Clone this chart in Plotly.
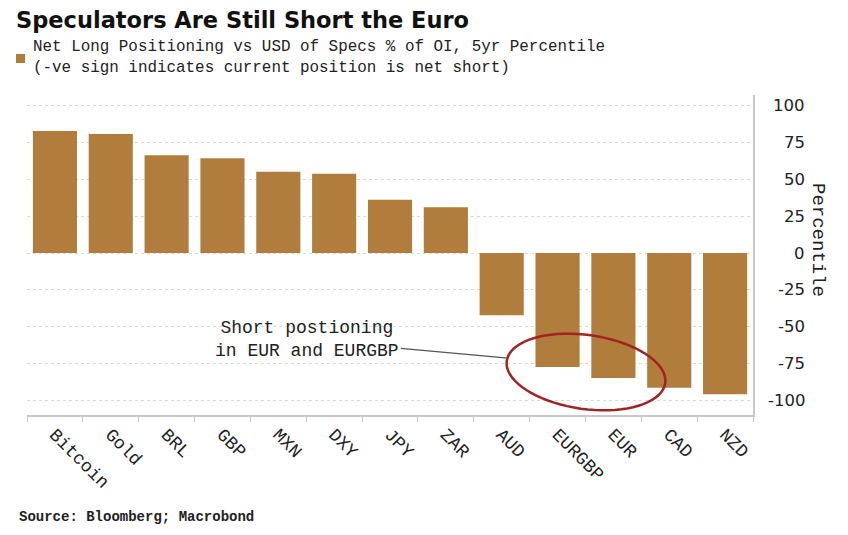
import math
import plotly.graph_objects as go

categories = ["Bitcoin", "Gold", "BRL", "GBP", "MXN", "DXY", "JPY", "ZAR",
              "AUD", "EURGBP", "EUR", "CAD", "NZD"]
percentile = [82.5, 80.5, 66, 64, 55, 53.5, 36, 31,
              -42, -77, -84.5, -91, -95.5]
y_ticks = [100, 75, 50, 25, 0, -25, -50, -75, -100]

title_text = "Speculators Are Still Short the Euro"
legend_lines = ["Net Long Positioning vs USD of Specs % of OI, 5yr Percentile",
                "(-ve sign indicates current position is net short)"]

BAR = "#B07D3C"
MONO = "Liberation Mono, DejaVu Sans Mono, monospace"
SANS = "DejaVu Sans, Verdana, sans-serif"

# page has an 8px body margin; figure is sized to fit the window inside it
OFF = 8
W, H = 848 - 2 * OFF, 535 - 2 * OFF
# target plot area in page pixels: left 27, right 753, top 95, bottom 415
L, R, T, B = 27 - OFF, W - (753 - OFF), 95 - OFF, H - (415 - OFF)
Y_RANGE = [-109.5, 106.8]

fig = go.Figure()
fig.add_trace(go.Bar(x=categories, y=percentile, marker_color=BAR,
                     marker_line_width=0, name=legend_lines[0],
                     showlegend=False))

fig.update_layout(
    width=W, height=H,
    margin=dict(l=L, r=R, t=T, b=B, autoexpand=False),
    paper_bgcolor="white", plot_bgcolor="white",
    bargap=0.21,
    showlegend=False,
)

fig.update_xaxes(
    type="category", showgrid=False, showline=True, linecolor="#c8c8c8",
    linewidth=1.5, ticks="outside", tickson="boundaries", ticklen=5,
    tickcolor="#c8c8c8", tickangle=45,
    tickfont=dict(family=MONO, size=18, color="#222"),
    range=[-0.5, len(categories) - 0.5],
)
fig.update_yaxes(
    side="right", range=Y_RANGE, tickvals=y_ticks,
    showticklabels=False, showgrid=True, gridcolor="#d9d9d9", griddash="dot",
    gridwidth=1, zeroline=False, showline=True, linecolor="#c8c8c8",
    linewidth=1.5, ticks="",
)

pw = W - L - R
ph = H - T - B


def px_x(p):
    """page x pixel -> paper fraction"""
    return (p - OFF - L) / pw


def px_y(p):
    """page y pixel -> paper fraction"""
    return 1 - (p - OFF - T) / ph


# title
fig.add_annotation(x=px_x(14), xref="paper", y=px_y(20), yref="paper",
                   xanchor="left", yanchor="middle", showarrow=False,
                   text=f"<b>{title_text}</b>",
                   font=dict(family=SANS, size=22.5, color="#111"))

# legend (manual)
fig.add_shape(type="rect", xref="paper", yref="paper",
              x0=px_x(16), x1=px_x(25), y0=px_y(63), y1=px_y(54),
              fillcolor=BAR, line_width=0)
fig.add_annotation(x=px_x(31), xref="paper", y=px_y(58), yref="paper",
                   xanchor="left", yanchor="middle", showarrow=False,
                   align="left", text="<br>".join(legend_lines),
                   font=dict(family=MONO, size=15.9, color="#222"))

# right-aligned tick labels
for v in y_ticks:
    fig.add_annotation(x=px_x(807), xref="paper", y=v, yref="y", text=str(v),
                       showarrow=False, xanchor="right", yanchor="middle",
                       font=dict(family=SANS, size=16.5, color="#222"))

fig.add_annotation(x=px_x(818), xref="paper", y=px_y(240), yref="paper",
                   text="Percentile", textangle=90, showarrow=False,
                   xanchor="center", yanchor="middle",
                   font=dict(family=MONO, size=19, color="#222"))

# callout
fig.add_annotation(x=8.11, y=-71, xref="x", yref="y",
                   ax=4.52, ay=-58.8, axref="x", ayref="y",
                   text="Short postioning<br>in EUR and EURGBP",
                   showarrow=True, arrowhead=0, arrowwidth=1.3,
                   arrowcolor="#555", align="center",
                   font=dict(family=MONO, size=18, color="#222"))

# tilted red ellipse (built in paper fractions, drawn as a path)
cx, cy, rx, ry, tilt = 586, 372, 80, 37, math.radians(8)
pts = []
for k in range(73):
    t = 2 * math.pi * k / 72
    ex = rx * math.cos(t)
    ey = ry * math.sin(t)
    x = cx + ex * math.cos(tilt) - ey * math.sin(tilt)
    y = cy + ex * math.sin(tilt) + ey * math.cos(tilt)
    pts.append((px_x(x), px_y(y)))
path = "M " + " L ".join(f"{a:.5f},{b:.5f}" for a, b in pts) + " Z"
fig.add_shape(type="path", xref="paper", yref="paper", path=path,
              line=dict(color="#A32222", width=2.5))

fig.add_annotation(x=px_x(17), xref="paper", y=px_y(517), yref="paper",
                   xanchor="left", yanchor="middle", showarrow=False,
                   text="<b>Source: Bloomberg; Macrobond</b>",
                   font=dict(family=MONO, size=14, color="#222"))

fig.write_html("out.html")
